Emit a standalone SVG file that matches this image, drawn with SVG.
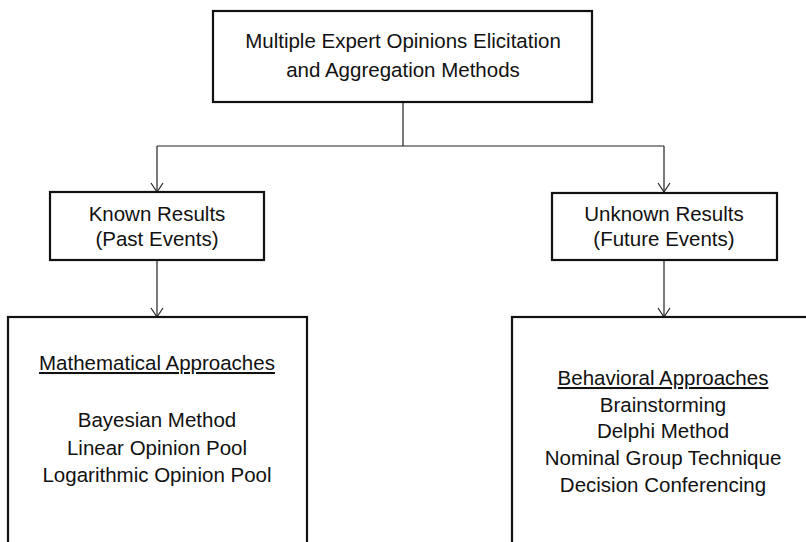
<svg xmlns="http://www.w3.org/2000/svg" width="806" height="542" viewBox="0 0 806 542">
<defs>
<style>
.box{fill:#fff;stroke:#111;stroke-width:2.2}
.conn{fill:none;stroke:#222;stroke-width:1.2}
text{font-family:"Liberation Sans",Arial,sans-serif;font-size:20.5px;fill:#111;text-anchor:middle}
.u{text-decoration:underline}
</style>
<marker id="arr" markerWidth="14" markerHeight="14" refX="12" refY="7" orient="auto" markerUnits="userSpaceOnUse" viewBox="0 0 14 14">
<path d="M3,1 L12,7 L3,13" fill="none" stroke="#222" stroke-width="1.2"/>
</marker>
</defs>
<rect width="806" height="542" fill="#fff"/>
<g id="connectors">
<line class="conn" x1="403" y1="102" x2="403" y2="146"/>
<line class="conn" x1="157" y1="146" x2="664" y2="146"/>
<line class="conn" x1="157" y1="146" x2="157" y2="192" marker-end="url(#arr)"/>
<line class="conn" x1="664" y1="146" x2="664" y2="192" marker-end="url(#arr)"/>
<line class="conn" x1="157" y1="260" x2="157" y2="317" marker-end="url(#arr)"/>
<line class="conn" x1="664" y1="260" x2="664" y2="317" marker-end="url(#arr)"/>
</g>
<g id="root">
<rect class="box" x="213" y="11" width="379" height="91"/>
<text x="403" y="48">Multiple Expert Opinions Elicitation</text>
<text x="403" y="77">and Aggregation Methods</text>
</g>
<g id="known">
<rect class="box" x="50" y="192" width="214" height="68"/>
<text x="157" y="221">Known Results</text>
<text x="157" y="246">(Past Events)</text>
</g>
<g id="unknown">
<rect class="box" x="552" y="193" width="225" height="67"/>
<text x="664" y="221">Unknown Results</text>
<text x="664" y="246">(Future Events)</text>
</g>
<g id="math">
<rect class="box" x="8" y="317" width="299" height="250"/>
<text class="u" x="157" y="370">Mathematical Approaches</text>
<text x="157" y="427">Bayesian Method</text>
<text x="157" y="455">Linear Opinion Pool</text>
<text x="157" y="482">Logarithmic Opinion Pool</text>
</g>
<g id="behav">
<rect class="box" x="512" y="317" width="320" height="250"/>
<text class="u" x="663" y="385">Behavioral Approaches</text>
<text x="663" y="412">Brainstorming</text>
<text x="663" y="438">Delphi Method</text>
<text x="663" y="465">Nominal Group Technique</text>
<text x="663" y="492">Decision Conferencing</text>
</g>
</svg>
